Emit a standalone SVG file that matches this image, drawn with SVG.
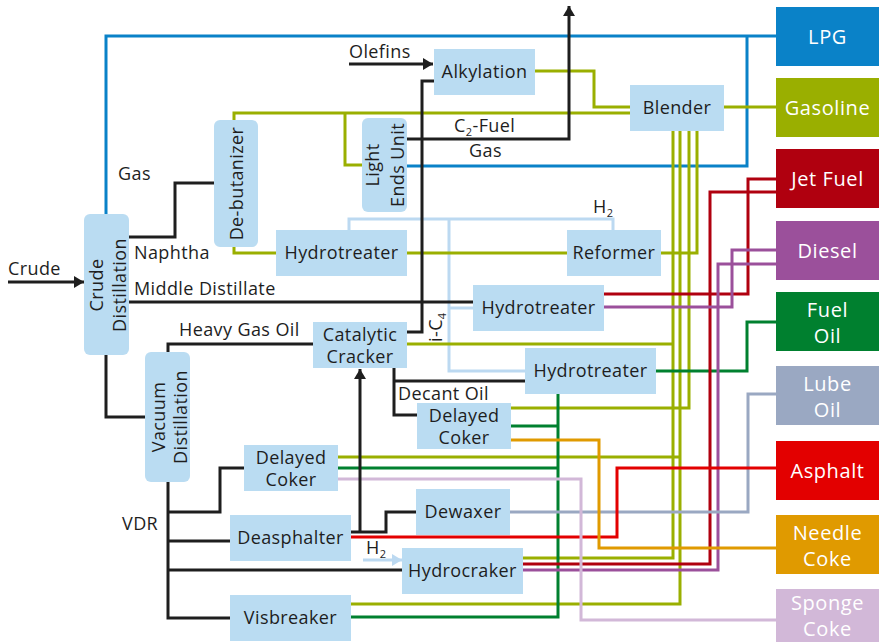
<svg xmlns="http://www.w3.org/2000/svg" width="879" height="642" viewBox="0 0 879 642">
<style>
.n{fill:#badcf2}
.t{font-family:"Open Sans","Noto Sans","DejaVu Sans",sans-serif;font-size:18px;fill:#1e1e1e;letter-spacing:0.4px}
.m{text-anchor:middle}
.w{font-family:"Open Sans","Noto Sans","DejaVu Sans",sans-serif;font-size:20px;fill:#ffffff;text-anchor:middle;letter-spacing:0.6px}
.c path{fill:none;stroke-width:3;stroke-linejoin:miter}
.k{stroke:#1e1e1e}
.h{stroke:#bcd9f1}
.b{stroke:#0a82c8}
.g{stroke:#9aaf00}
.dg{stroke:#00802f}
.jr{stroke:#b0000f}
.pu{stroke:#9b509b}
.lu{stroke:#9aa8c2}
.as{stroke:#e30000}
.nc{stroke:#e09a00}
.sc{stroke:#d2b8d8}
.sub{font-size:11px}
</style>
<defs>
<marker id="ak" markerUnits="userSpaceOnUse" markerWidth="11" markerHeight="12" refX="10" refY="6" orient="auto">
<path d="M0,0 L10,6 L0,12 z" fill="#1e1e1e"/>
</marker>
<marker id="ah" markerUnits="userSpaceOnUse" markerWidth="11" markerHeight="12" refX="10" refY="6" orient="auto">
<path d="M0,0 L10,6 L0,12 z" fill="#bcd9f1"/>
</marker>
</defs>

<g id="connectors" class="c">
<path class="h" d="M349,230 V219 H613 V230"/>
<path class="h" d="M449,219 V371 H525"/>
<path class="h" d="M449,308 H473"/>
<path class="h" d="M363,560 H402" marker-end="url(#ah)"/>
<path class="b" d="M106,214 V36 H776"/>
<path class="b" d="M407,166 H747 V36"/>
<path class="g" d="M535,71 H594 V107 H630"/>
<path class="g" d="M234,120 V113 H630"/>
<path class="g" d="M345,113 V165 H362"/>
<path class="g" d="M234,247 V253 H276"/>
<path class="g" d="M407,253 H567"/>
<path class="g" d="M661,253 H697 V131"/>
<path class="g" d="M724,107 H776"/>
<path class="g" d="M689,131 V408 H511"/>
<path class="g" d="M673,131 V558 H523"/>
<path class="g" d="M407,344 H673"/>
<path class="g" d="M680,131 V604 H351"/>
<path class="g" d="M338,457 H680"/>
<path class="dg" d="M656,371 H747 V322 H776"/>
<path class="dg" d="M558,394 V617 H351"/>
<path class="dg" d="M511,426 H558"/>
<path class="dg" d="M338,468 H558"/>
<path class="jr" d="M604,294 H748 V179 H776"/>
<path class="jr" d="M523,564 H710 V192 H776"/>
<path class="pu" d="M604,307 H732 V250 H776"/>
<path class="pu" d="M523,570 H718 V264 H776"/>
<path class="lu" d="M510,512 H748 V394 H776"/>
<path class="as" d="M351,537 H617 V468 H776"/>
<path class="nc" d="M511,440 H599 V548 H776"/>
<path class="sc" d="M338,479 H581 V620 H776"/>
<path class="k" d="M8,282 H84" marker-end="url(#ak)"/>
<path class="k" d="M349,64 H433" marker-end="url(#ak)"/>
<path class="k" d="M129,237 H175 V183 H214"/>
<path class="k" d="M129,302 H473"/>
<path class="k" d="M106,355 V417 H145"/>
<path class="k" d="M168,352 V344 H313"/>
<path class="k" d="M407,332 H422 V81 H434"/>
<path class="k" d="M407,139 H569 V6" marker-end="url(#ak)"/>
<path class="k" d="M394,368 V415 H417"/>
<path class="k" d="M394,381 H525"/>
<path class="k" d="M168,482 V618 H230"/>
<path class="k" d="M168,512 H220 V468 H244"/>
<path class="k" d="M168,541 H230"/>
<path class="k" d="M168,570 H402"/>
<path class="k" d="M351,532 H386 V512 H416"/>
<path class="k" d="M360,532 V369" marker-end="url(#ak)"/>
</g>

<g id="labels">
<text class="t" x="8" y="275">Crude</text>
<text class="t" x="118" y="180">Gas</text>
<text class="t" x="134" y="259">Naphtha</text>
<text class="t" x="134" y="295">Middle Distillate</text>
<text class="t" x="179" y="336">Heavy Gas Oil</text>
<text class="t" x="398" y="400">Decant Oil</text>
<text class="t" x="122" y="530">VDR</text>
<text class="t" x="349" y="58">Olefins</text>
<text class="t" x="454" y="132">C<tspan class="sub" dy="4">2</tspan><tspan dy="-4">-Fuel</tspan></text>
<text class="t" x="469" y="157">Gas</text>
<text class="t" x="593" y="213">H<tspan class="sub" dy="4">2</tspan></text>
<text class="t" x="366" y="554">H<tspan class="sub" dy="4">2</tspan></text>
<text class="t" transform="translate(442,342) rotate(-90)">i-C<tspan class="sub" dy="4">4</tspan></text>
</g>

<g id="crude-distillation"><rect class="n" x="84" y="214" width="45" height="141" rx="6"/>
<text class="t m" transform="translate(106.5,285) rotate(-90)"><tspan x="0" y="-4">Crude</tspan><tspan x="0" y="19">Distillation</tspan></text></g>
<g id="vacuum-distillation"><rect class="n" x="145" y="352" width="45" height="130" rx="6"/>
<text class="t m" transform="translate(167.5,417) rotate(-90)"><tspan x="0" y="-3">Vacuum</tspan><tspan x="0" y="19">Distillation</tspan></text></g>
<g id="de-butanizer"><rect class="n" x="214" y="120" width="44" height="127" rx="6"/>
<text class="t m" transform="translate(236,183.5) rotate(-90)" y="7">De-butanizer</text></g>
<g id="light-ends-unit"><rect class="n" x="362" y="118" width="45" height="94" rx="6"/>
<text class="t m" transform="translate(384.5,165) rotate(-90)"><tspan x="0" y="-6">Light</tspan><tspan x="0" y="19">Ends Unit</tspan></text></g>
<g id="alkylation"><rect class="n" x="434" y="49" width="101" height="46"/>
<text class="t m" x="484.5" y="78">Alkylation</text></g>
<g id="blender"><rect class="n" x="630" y="85" width="94" height="46"/>
<text class="t m" x="677" y="114">Blender</text></g>
<g id="hydrotreater-1"><rect class="n" x="276" y="230" width="131" height="46"/>
<text class="t m" x="341.5" y="259">Hydrotreater</text></g>
<g id="reformer"><rect class="n" x="567" y="230" width="94" height="46"/>
<text class="t m" x="614" y="259">Reformer</text></g>
<g id="hydrotreater-2"><rect class="n" x="473" y="285" width="131" height="46"/>
<text class="t m" x="538.5" y="314">Hydrotreater</text></g>
<g id="catalytic-cracker"><rect class="n" x="313" y="322" width="94" height="46"/>
<text class="t m" x="360"><tspan x="360" y="341">Catalytic</tspan><tspan x="360" y="363">Cracker</tspan></text></g>
<g id="hydrotreater-3"><rect class="n" x="525" y="348" width="131" height="46"/>
<text class="t m" x="590.5" y="377">Hydrotreater</text></g>
<g id="delayed-coker-1"><rect class="n" x="417" y="403" width="94" height="46"/>
<text class="t m"><tspan x="464" y="422">Delayed</tspan><tspan x="464" y="444">Coker</tspan></text></g>
<g id="delayed-coker-2"><rect class="n" x="244" y="445" width="94" height="46"/>
<text class="t m"><tspan x="291" y="464">Delayed</tspan><tspan x="291" y="486">Coker</tspan></text></g>
<g id="dewaxer"><rect class="n" x="416" y="489" width="94" height="46"/>
<text class="t m" x="463" y="518">Dewaxer</text></g>
<g id="deasphalter"><rect class="n" x="230" y="515" width="121" height="46"/>
<text class="t m" x="290.5" y="544">Deasphalter</text></g>
<g id="hydrocraker"><rect class="n" x="402" y="548" width="121" height="46"/>
<text class="t m" x="462.5" y="577">Hydrocraker</text></g>
<g id="visbreaker"><rect class="n" x="230" y="595" width="121" height="46"/>
<text class="t m" x="290.5" y="624">Visbreaker</text></g>

<g id="lpg"><rect x="776" y="7" width="103" height="59" fill="#0a82c8"/><text class="w" x="827.5" y="44">LPG</text></g>
<g id="gasoline"><rect x="776" y="78" width="103" height="59" fill="#9aaf00"/><text class="w" x="827.5" y="115">Gasoline</text></g>
<g id="jet-fuel"><rect x="776" y="149" width="103" height="59" fill="#b0000f"/><text class="w" x="827.5" y="186">Jet Fuel</text></g>
<g id="diesel"><rect x="776" y="221" width="103" height="59" fill="#9b509b"/><text class="w" x="827.5" y="258">Diesel</text></g>
<g id="fuel-oil"><rect x="776" y="292" width="103" height="59" fill="#00802f"/><text class="w"><tspan x="827.5" y="317">Fuel</tspan><tspan x="827.5" y="343">Oil</tspan></text></g>
<g id="lube-oil"><rect x="776" y="366" width="103" height="59" fill="#9aa8c2"/><text class="w"><tspan x="827.5" y="391">Lube</tspan><tspan x="827.5" y="417">Oil</tspan></text></g>
<g id="asphalt"><rect x="776" y="441" width="103" height="59" fill="#e30000"/><text class="w" x="827.5" y="478">Asphalt</text></g>
<g id="needle-coke"><rect x="776" y="515" width="103" height="59" fill="#e09a00"/><text class="w"><tspan x="827.5" y="540">Needle</tspan><tspan x="827.5" y="566">Coke</tspan></text></g>
<g id="sponge-coke"><rect x="776" y="589" width="103" height="59" fill="#d2b8d8"/><text class="w"><tspan x="827.5" y="609.5">Sponge</tspan><tspan x="827.5" y="635.5">Coke</tspan></text></g>
</svg>
